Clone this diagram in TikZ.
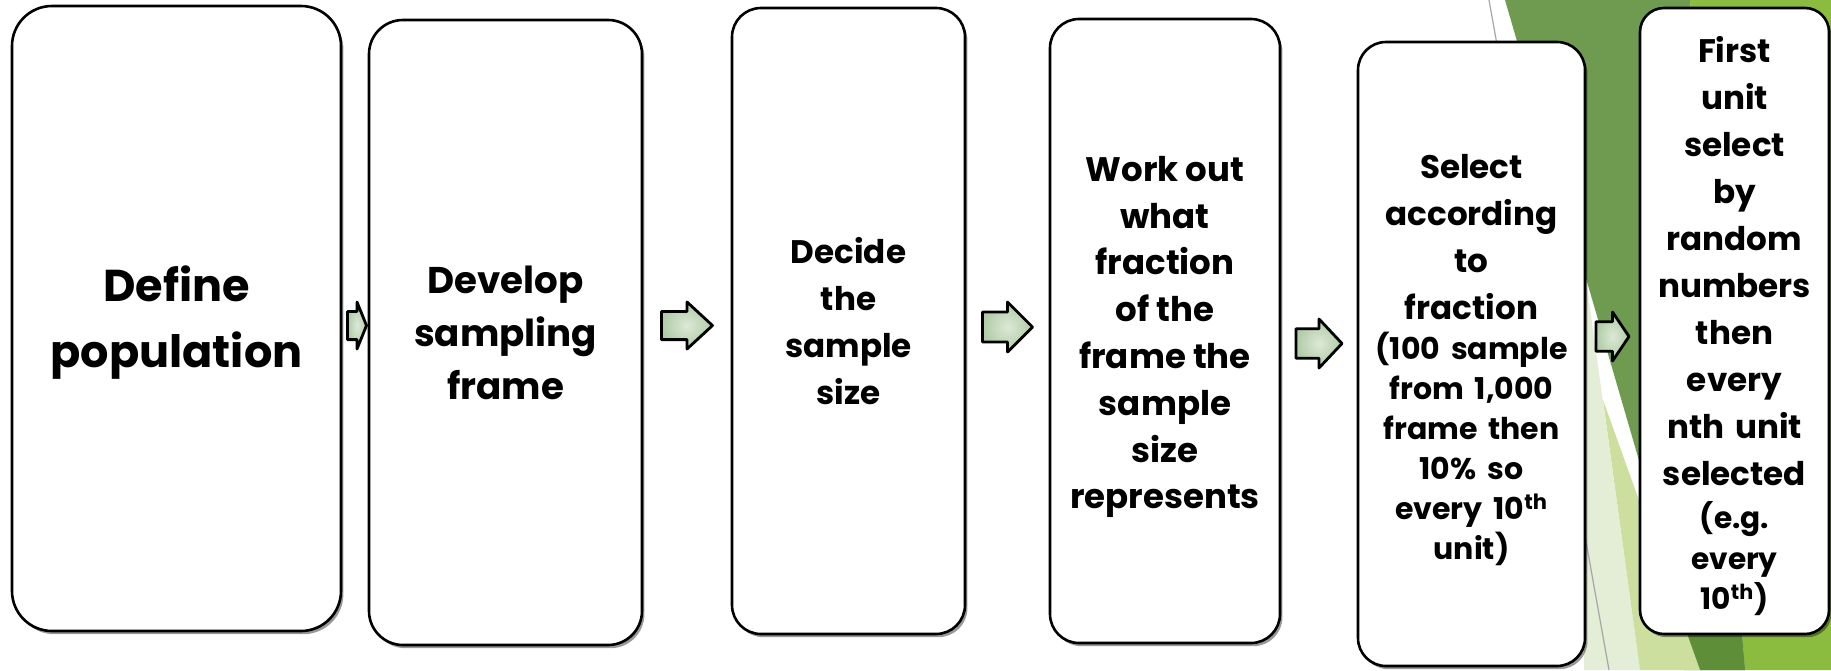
\documentclass[tikz,border=0pt]{standalone}
\usepackage{fontspec}
\setmainfont{Poppins}
\usetikzlibrary{fit,shadows,calc}

\definecolor{gbright}{HTML}{8CBC3F}
\definecolor{gdark}{HTML}{6F9B50}
\definecolor{gdeep}{HTML}{5E8F38}
\definecolor{glight}{HTML}{CCDF9E}
\definecolor{gpale}{HTML}{E4EDD6}
\definecolor{arrowin}{HTML}{DCE9D7}
\definecolor{arrowout}{HTML}{AFCBA5}

\tikzset{
  stage/.style={draw=black, line width=1.3pt, fill=white, inner sep=0pt,
    drop shadow={shadow xshift=1.2pt, shadow yshift=-1.6pt, opacity=0.4, fill=black}},
  stagetext/.style={align=center, inner sep=0pt},
  flowarrow/.style={draw=black, line width=1.4pt, line join=round,
    inner color=arrowin, outer color=arrowout},
}

% block arrow centred on a coordinate: #1 centre, #2 length, #3 height (px)
\newcommand\blockarrow[3]{%
  \draw[flowarrow, shift={(#1)}]
    ({-#2/2},{-0.3*#3}) -- (0,{-0.3*#3}) -- (0,{-0.5*#3}) -- ({#2/2},0)
    -- (0,{0.5*#3}) -- (0,{0.3*#3}) -- ({-#2/2},{0.3*#3}) -- cycle;}

\begin{document}
\begin{tikzpicture}[x=0.5pt, y=-0.5pt]
\useasboundingbox (0,0) rectangle (1831,670);
\fill[white] (0,0) rectangle (1831,670);

% facet background on the right
\fill[gbright] (1690,0) -- (1831,0) -- (1831,670) -- (1745,670) -- cycle;
\fill[gdark] (1505,0) -- (1690,0) -- (1745,670) -- (1700,670) -- cycle;
\fill[gdeep] (1665,590) -- (1738,590) -- (1745,670) -- (1684,670) -- cycle;
\fill[gpale] (1584,265) -- (1640,670) -- (1584,670) -- cycle;
\fill[glight] (1603,400) -- (1700,670) -- (1640,670) -- cycle;
\draw[black!35, line width=0.6pt] (1489,0) -- (1609,670);

% process stages
\node[stage, rounded corners=20pt,   fit={(12,6) (341,631)}]    (b1) {};
\node[stage, rounded corners=17pt,   fit={(369,20) (642,645)}]  (b2) {};
\node[stage, rounded corners=14.5pt, fit={(732,8) (965,634)}]   (b3) {};
\node[stage, rounded corners=14.5pt, fit={(1050,19) (1280,643)}] (b4) {};
\node[stage, rounded corners=14pt,   fit={(1358,42) (1585,666)}] (b5) {};
\node[stage, rounded corners=12pt,   fit={(1640,8) (1829,634)}]  (b6) {};

\node[stagetext, font=\bfseries\fontsize{22.3}{32.7}\selectfont]
  (t1) at ($(b1.center)+(0,4)$) {Define\\population};
\node[stagetext, font=\bfseries\fontsize{18.6}{26.5}\selectfont]
  (t2) at (b2.center) {Develop\\sampling\\frame};
\node[stagetext, font=\bfseries\fontsize{16.3}{23.5}\selectfont]
  (t3) at (b3.center) {Decide\\the\\sample\\size};
\node[stagetext, font=\bfseries\fontsize{17}{23.4}\selectfont]
  (t4) at ($(b4.center)+(0,6)$)
  {Work out\\what\\fraction\\of the\\frame the\\sample\\size\\represents};
\node[stagetext, text width=110pt, font=\bfseries\fontsize{16.3}{23.5}\selectfont]
  (t5) at ($(b5.center)+(0,6.5)$)
  {Select\\according\\to\\fraction\par
   {\fontsize{15}{20}\selectfont (100 sample\\from 1,000\\frame then\\10\% so\\every 10\textsuperscript{th}\\unit)\par}};
\node[stagetext, text width=92pt, font=\bfseries\fontsize{16.3}{23.5}\selectfont]
  (t6) at ($(b6.center)+(0,5)$)
  {First\\unit\\select\\by\\random\\numbers\\then\\every\\nth unit\\selected\par
   {\fontsize{14.8}{20.3}\selectfont\vspace{1.5pt}(e.g.\\every\\10\textsuperscript{th})\par}};

% arrows between stages
\coordinate (h1) at (0,325.5);
\coordinate (h3) at (0,327);
\coordinate (h4) at (0,343.5);
\coordinate (h5) at (0,336.5);
\coordinate (m1) at ($(b1.east)!0.5!(b2.west)$);
\coordinate (m2) at ($(b2.east)!0.5!(b3.west)$);
\coordinate (m3) at ($(b3.east)!0.5!(b4.west)$);
\coordinate (m4) at ($(b4.east)!0.5!(b5.west)$);
\coordinate (m5) at ($(b5.east)!0.5!(b6.west)$);
\coordinate (a1) at ($(m1 |- h1) + (2,0)$);
\coordinate (a2) at (m2 |- h1);
\coordinate (a3) at (m3 |- h3);
\coordinate (a4) at (m4 |- h4);
\coordinate (a5) at (m5 |- h5);
\blockarrow{a1}{19}{47}
\blockarrow{a2}{51}{47}
\blockarrow{a3}{50}{50}
\blockarrow{a4}{46}{49}
\blockarrow{a5}{33}{49}
\end{tikzpicture}
\end{document}
